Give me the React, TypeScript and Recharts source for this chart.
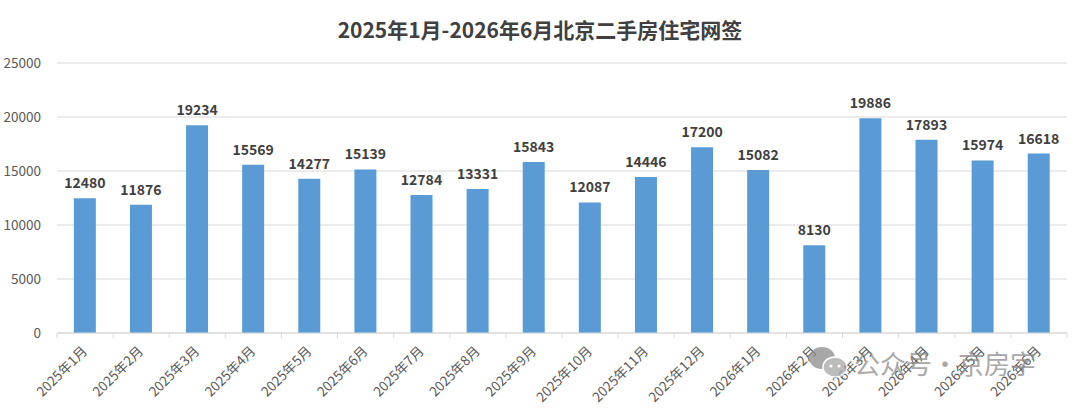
import { BarChart, Bar, XAxis, YAxis, CartesianGrid, LabelList } from 'recharts';

const MONTHS = [
  '2025年1月', '2025年2月', '2025年3月', '2025年4月', '2025年5月', '2025年6月',
  '2025年7月', '2025年8月', '2025年9月', '2025年10月', '2025年11月', '2025年12月',
  '2026年1月', '2026年2月', '2026年3月', '2026年4月', '2026年5月', '2026年6月',
];
const SIGNED = [
  12480, 11876, 19234, 15569, 14277, 15139,
  12784, 13331, 15843, 12087, 14446, 17200,
  15082, 8130, 19886, 17893, 15974, 16618,
];
const Y_TICKS = [0, 5000, 10000, 15000, 20000, 25000];

const data = MONTHS.map((month, i) => ({ month, value: SIGNED[i] }));

const FONT = '"Noto Sans CJK SC", "Noto Sans", sans-serif';
const BAND = 1010 / MONTHS.length;

// rotated month label plus Excel-style tick marks between categories
function MonthTick(props: any) {
  const { x, y, payload, index } = props;
  return (
    <g>
      <line x1={x - BAND / 2} x2={x - BAND / 2} y1={y - 8} y2={y - 3} stroke="#D9D9D9" />
      {index === MONTHS.length - 1 && (
        <line x1={x + BAND / 2} x2={x + BAND / 2} y1={y - 8} y2={y - 3} stroke="#D9D9D9" />
      )}
      <text
        x={x + 3}
        y={y + 11}
        transform={`rotate(-45, ${x + 3}, ${y + 11})`}
        textAnchor="end"
        fontSize={13.5}
        fill="#595959"
        fontFamily={FONT}
      >
        {payload.value}
      </text>
    </g>
  );
}

export default function App() {
  return (
    <div style={{ position: 'absolute', left: 0, top: 0, width: 1080, height: 415, background: '#fff', fontFamily: FONT }}>
      <div
        style={{
          position: 'absolute', top: 15, left: 0, width: 1080, textAlign: 'center',
          fontSize: 21, fontWeight: 700, color: '#404040', lineHeight: '28px',
        }}
      >
        2025年1月-2026年6月北京二手房住宅网签
      </div>
      <BarChart
        width={1080}
        height={415}
        data={data}
        margin={{ top: 63, right: 13, left: 0, bottom: 0 }}
        barCategoryGap="30%"
      >
        <CartesianGrid horizontal vertical={false} stroke="#D9D9D9" />
        <XAxis
          dataKey="month"
          interval={0}
          height={82}
          tick={<MonthTick />}
          tickLine={false}
          axisLine={{ stroke: '#D9D9D9' }}
        />
        <YAxis
          width={57}
          domain={[0, 25000]}
          ticks={Y_TICKS}
          tickLine={false}
          axisLine={false}
          tick={{ fill: '#595959', fontSize: 13.5, fontFamily: FONT }}
          tickMargin={10}
        />
        <Bar dataKey="value" fill="#5B9BD5" isAnimationActive={false}>
          <LabelList
            dataKey="value"
            position="top"
            offset={10}
            fill="#404040"
            fontSize={14}
            fontWeight={700}
            fontFamily={FONT}
          />
        </Bar>
      </BarChart>
      <div
        style={{
          position: 'absolute', left: 808, top: 346, display: 'flex', alignItems: 'center',
          color: '#8c8c8c', opacity: 0.75, fontSize: 26, lineHeight: '34px', whiteSpace: 'nowrap',
        }}
      >
        <svg width={42} height={34} viewBox="0 0 42 34">
          <ellipse cx={14} cy={12} rx={13} ry={11} fill="#8c8c8c" />
          <ellipse cx={27} cy={21} rx={12} ry={10} fill="#a6a6a6" stroke="#fff" strokeWidth={1.5} />
          <circle cx={23} cy={20} r={1.6} fill="#fff" />
          <circle cx={31} cy={20} r={1.6} fill="#fff" />
        </svg>
        <span style={{ marginLeft: 4 }}>公众号·京房字</span>
      </div>
    </div>
  );
}
